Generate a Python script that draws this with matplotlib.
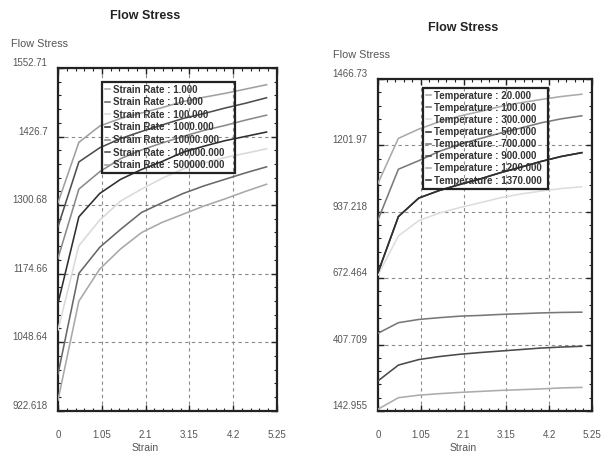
import matplotlib
matplotlib.use("Agg")
import matplotlib.pyplot as plt
from matplotlib.ticker import AutoMinorLocator

plt.rcParams['font.family'] = ['Liberation Sans', 'DejaVu Sans']

# ---------------- data ----------------
strain = [0, 0.5, 1.0, 1.5, 2.0, 2.5, 3.0, 3.5, 4.0, 4.5, 5.0]

rate_labels = ["Strain Rate : 1.000", "Strain Rate : 10.000", "Strain Rate : 100.000",
               "Strain Rate : 1000.000", "Strain Rate : 10000.000",
               "Strain Rate : 100000.000", "Strain Rate : 500000.000"]
rate_1 = [942, 1124, 1183, 1220, 1250, 1269, 1284, 1299, 1312, 1326, 1339]
rate_10 = [990, 1175, 1223, 1256, 1287, 1305, 1322, 1336, 1348, 1360, 1371]
rate_100 = [1071, 1226, 1273, 1308, 1330, 1350, 1367, 1378, 1388, 1396, 1404]
rate_1000 = [1120, 1279, 1322, 1348, 1366, 1381, 1398, 1409, 1419, 1427, 1435]
rate_10000 = [1203, 1330, 1362, 1386, 1402, 1415, 1427, 1438, 1447, 1457, 1466]
rate_100000 = [1261, 1380, 1406, 1423, 1436, 1448, 1460, 1469, 1479, 1488, 1498]
rate_500000 = [1305, 1416, 1446, 1460, 1470, 1480, 1491, 1499, 1506, 1514, 1522]
rate_series = [rate_1, rate_10, rate_100, rate_1000, rate_10000, rate_100000, rate_500000]
rate_colors = ['#a8a8a8', '#686868', '#dadada', '#2e2e2e', '#8a8a8a', '#4e4e4e', '#a0a0a0']

temp_labels = ["Temperature : 20.000", "Temperature : 100.000", "Temperature : 300.000",
               "Temperature : 500.000", "Temperature : 700.000", "Temperature : 900.000",
               "Temperature : 1200.000", "Temperature : 1370.000"]
temp_20 = [1051, 1230, 1267, 1296, 1319, 1337, 1357, 1372, 1385, 1397, 1406]
temp_100 = [905, 1107, 1141, 1178, 1206, 1229, 1251, 1271, 1292, 1308, 1320]
temp_300 = [685, 841, 902, 932, 954, 973, 993, 1008, 1020, 1030, 1037]
temp_500 = [695, 918, 992, 1022, 1046, 1068, 1093, 1115, 1138, 1158, 1173]
temp_700 = [453, 495, 508, 515, 521, 524, 528, 531, 534, 536, 537]
temp_900 = [263, 326, 348, 360, 369, 376, 382, 388, 394, 398, 401]
temp_1200 = [150, 196, 206, 212, 217, 221, 225, 228, 231, 235, 237]
temp_1370 = [695, 918, 992, 1022, 1046, 1068, 1093, 1115, 1138, 1158, 1173]
temp_series = [temp_20, temp_100, temp_300, temp_500, temp_700, temp_900, temp_1200, temp_1370]
temp_colors = ['#aaaaaa', '#7a7a7a', '#dddddd', '#303030', '#787878', '#4a4a4a', '#acacac', '#303030']

x_ticks = [0, 1.05, 2.1, 3.15, 4.2, 5.25]
x_ticklabels = ['0', '1.05', '2.1', '3.15', '4.2', '5.25']
left_yticks = [922.618, 1048.64, 1174.66, 1300.68, 1426.7, 1552.71]
left_yticklabels = ['922.618', '1048.64', '1174.66', '1300.68', '1426.7', '1552.71']
right_yticks = [142.955, 407.709, 672.464, 937.218, 1201.97, 1466.73]
right_yticklabels = ['142.955', '407.709', '672.464', '937.218', '1201.97', '1466.73']

# ---------------- figure ----------------
fig = plt.figure(figsize=(6.01, 4.61), dpi=100)
W, H = 601, 461

def make_axes(x0, x1, ytop, ybot):
    return fig.add_axes([x0 / W, (H - ybot) / H, (x1 - x0) / W, (ybot - ytop) / H])

axL = make_axes(58, 277, 68, 410.7)
axR = make_axes(378, 592, 79, 411)

def style(ax, yticks, ylabels, series, colors, labels, leg_box, spacing, title_y, ylab_xy):
    for ys, c, lab in zip(series, colors, labels):
        ax.plot(strain, ys, color=c, lw=1.15, label=lab, zorder=3)
    ax.set_xlim(0, 5.25)
    ax.set_ylim(yticks[0], yticks[-1])
    ax.set_xticks(x_ticks)
    ax.set_xticklabels(x_ticklabels)
    ax.set_yticks(yticks)
    ax.set_yticklabels(ylabels, va='bottom')
    ax.xaxis.set_minor_locator(AutoMinorLocator(5))
    ax.yaxis.set_minor_locator(AutoMinorLocator(5))
    ax.tick_params(which='both', direction='in', top=True, right=True, colors='#222222',
                   labelcolor='#555555', labelsize=7)
    ax.tick_params(which='major', length=4, width=1.0)
    ax.tick_params(which='minor', length=2.2, width=0.8)
    ax.tick_params(axis='x', which='major', pad=14)
    ax.tick_params(axis='y', which='major', pad=7.5)
    ax.grid(True, which='major', color='#8a8a8a', lw=0.8, ls=(0, (3, 3)))
    for sp in ax.spines.values():
        sp.set_linewidth(1.6)
        sp.set_color('#222222')
    ax.set_xlabel('Strain', fontsize=7.5, color='#555555')
    ax.xaxis.set_label_coords(2.1 / 5.25, -0.095)
    leg = ax.legend(loc='upper left', bbox_to_anchor=leg_box, mode='expand', borderaxespad=0,
                    prop={'weight': 'bold', 'size': 7}, handlelength=0.55,
                    handletextpad=0.3, labelspacing=spacing, borderpad=0.3,
                    fancybox=False, facecolor='none', edgecolor='#222222', framealpha=1)
    leg.get_frame().set_linewidth(1.6)
    for t in leg.get_texts():
        t.set_color('#333333')
    ax.text(2.1, title_y, 'Flow Stress', transform=ax.get_xaxis_transform(),
            ha='center', va='center', fontsize=9, fontweight='bold', color='#222222')
    fig.text(ylab_xy[0] / W, 1 - ylab_xy[1] / H, 'Flow Stress', ha='left', va='center',
             fontsize=7.8, color='#555555')

style(axL, left_yticks, left_yticklabels, rate_series, rate_colors, rate_labels,
      ((101.7 - 58) / 219, (410.7 - 170) / 342.7, 133.3 / 219, 88.3 / 342.7), 0.27,
      1 + (68 - 16) / 342.7, (11, 44))
style(axR, right_yticks, right_yticklabels, temp_series, temp_colors, temp_labels,
      ((422.7 - 378) / 214, (411 - 184.3) / 332, 125.6 / 214, 96.6 / 332), 0.22,
      1 + (79 - 28) / 332, (333, 55.5))

fig.savefig('out.png', dpi=100)
